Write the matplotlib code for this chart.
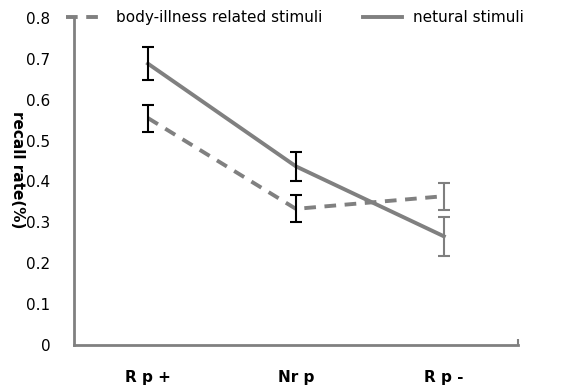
import matplotlib.pyplot as plt

categories = ["R p +", "Nr p", "R p -"]
body = [0.555, 0.333, 0.364]
body_err = [0.033, 0.033, 0.033]
natural = [0.688, 0.437, 0.266]
natural_err = [0.040, 0.035, 0.048]
err_colors = ["black", "black", "#7f7f7f"]
yticks = [0, 0.1, 0.2, 0.3, 0.4, 0.5, 0.6, 0.7, 0.8]

gray = "#808080"
fig = plt.figure(figsize=(5.74, 3.89), dpi=100)
ax = fig.add_axes([0.129, 0.113, 0.773, 0.841])

x = list(range(1, len(categories) + 1))
l1, = ax.plot(x, body, color=gray, lw=2.8, dashes=(3, 2.2), label="body-illness related stimuli")
l2, = ax.plot(x, natural, color=gray, lw=2.8, label="netural stimuli")
for xi, v, e, c in zip(x, body, body_err, err_colors):
    ax.errorbar(xi, v, yerr=e, fmt="none", ecolor=c, elinewidth=1.5, capsize=4, capthick=1.5)
for xi, v, e, c in zip(x, natural, natural_err, err_colors):
    ax.errorbar(xi, v, yerr=e, fmt="none", ecolor=c, elinewidth=1.5, capsize=4, capthick=1.5)

ax.set_xlim(0.5, 3.5)
ax.set_ylim(0, 0.8)
ax.set_yticks(yticks)
ax.set_yticklabels([f"{t:g}" for t in yticks], fontsize=11)
ax.tick_params(axis="y", length=0, pad=17)
ax.set_xticks(x)
ax.set_xticklabels(categories, fontsize=11, fontweight="bold")
ax.tick_params(axis="x", length=0, pad=18)
ax.set_xticks([2, 3, 3.5], minor=True)
ax.tick_params(axis="x", which="minor", direction="in", length=4, color=gray, width=1.5)

for s in ["top", "right"]:
    ax.spines[s].set_visible(False)
for s in ["left", "bottom"]:
    ax.spines[s].set_color(gray)
    ax.spines[s].set_linewidth(2)

ax.set_ylabel("recall rate(%)", rotation=270, fontsize=11, fontweight="bold")
ax.yaxis.set_label_coords(-0.145, 0.535)

fig.legend(handles=[l1, l2], loc="center left", bbox_to_anchor=(0.115, 0.955), ncol=2,
           frameon=False, fontsize=11, handlelength=2.6, columnspacing=2.6, handletextpad=0.7,
           borderaxespad=0, borderpad=0)

fig.savefig("out.png", dpi=100)
